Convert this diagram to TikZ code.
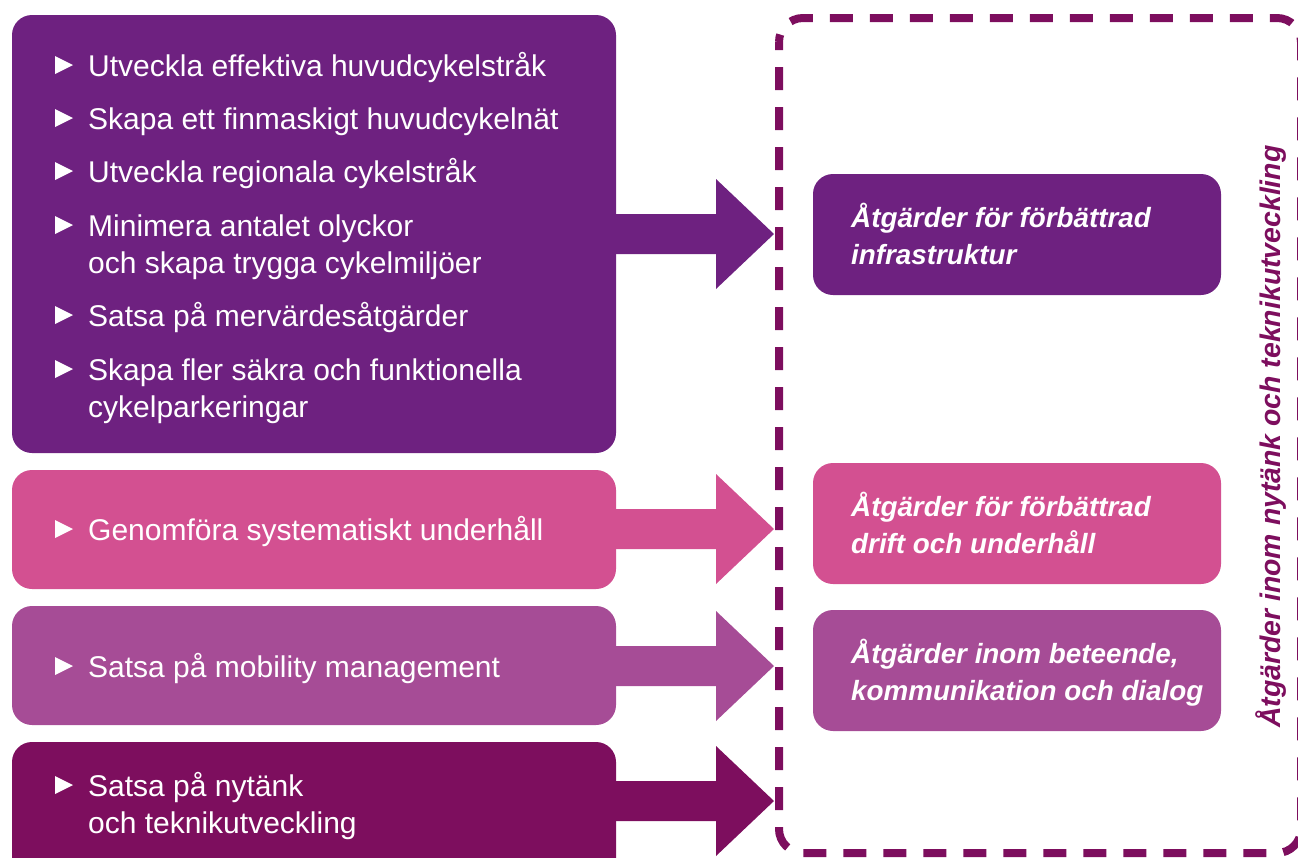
\documentclass[tikz,border=0pt]{standalone}
\usepackage{fontspec}
\setmainfont{Liberation Sans}
\begin{document}
\begin{tikzpicture}[x=1pt,y=-1pt,
  leftbox/.style={rounded corners=20pt, draw=none},
  rightbox/.style={rounded corners=20pt, draw=none},
  item/.style={anchor=base west, inner sep=0pt, text=white, font=\fontsize{30}{37}\selectfont},
  goal/.style={anchor=base west, inner sep=0pt, text=white, font=\fontsize{27.8}{37}\selectfont\bfseries\itshape},
  bullet/.style={fill=white, draw=none},
  arrowbody/.style={draw=none},
]
\definecolor{cInfra}{RGB}{110,33,128}
\definecolor{cDrift}{RGB}{211,80,145}
\definecolor{cMob}{RGB}{166,76,150}
\definecolor{cNy}{RGB}{125,14,94}

\useasboundingbox (0,0) rectangle (1298,857);

% left-hand boxes
\fill[leftbox, cInfra] (12,15) rectangle (616,453);
\fill[leftbox, cDrift] (12,470) rectangle (616,589);
\fill[leftbox, cMob]   (12,606) rectangle (616,725);
\fill[leftbox, cNy]    (12,742) rectangle (616,885);

% block arrows towards the dashed frame
\newcommand{\blockarrow}[2]{%
  \fill[arrowbody, #1] (612,#2-20) -- (716,#2-20) -- (716,#2-55) -- (774,#2)
     -- (716,#2+55) -- (716,#2+20) -- (612,#2+20) -- cycle;}
\blockarrow{cInfra}{234}
\blockarrow{cDrift}{529}
\blockarrow{cMob}{666}
\blockarrow{cNy}{801}

% dashed frame
\draw[cNy, line width=8pt, dash pattern=on 23pt off 17pt, dash phase=15pt, rounded corners=24pt]
  (779,18) rectangle (1301,853);

% right-hand boxes
\fill[rightbox, cInfra] (813,174) rectangle (1221,295);
\fill[rightbox, cDrift] (813,463) rectangle (1221,584);
\fill[rightbox, cMob]   (813,610) rectangle (1221,731);

% bullets
\newcommand{\tri}[1]{\fill[bullet] (55,#1-20) -- (73,#1-11) -- (55,#1-2) -- cycle;}
\tri{76}\tri{129}\tri{182}\tri{236}\tri{326}\tri{380}\tri{540}\tri{677}\tri{796}

% bullet texts
\node[item] (t1)  at (88,76)  {Utveckla effektiva huvudcykelstråk};
\node[item] (t2)  at (88,129) {Skapa ett finmaskigt huvudcykelnät};
\node[item] (t3)  at (88,182) {Utveckla regionala cykelstråk};
\node[item] (t4a) at (88,236) {Minimera antalet olyckor};
\node[item] (t4b) at (88,273) {och skapa trygga cykelmiljöer};
\node[item] (t5)  at (88,326) {Satsa på mervärdesåtgärder};
\node[item] (t6a) at (88,380) {Skapa fler säkra och funktionella};
\node[item] (t6b) at (88,417) {cykelparkeringar};
\node[item] (t7)  at (88,540) {Genomföra systematiskt underhåll};
\node[item] (t8)  at (88,677) {Satsa på mobility management};
\node[item] (t9a) at (88,796) {Satsa på nytänk};
\node[item] (t9b) at (88,833) {och teknikutveckling};

% goal texts
\node[goal] (g1a) at (851,227) {Åtgärder för förbättrad};
\node[goal] (g1b) at (851,264) {infrastruktur};
\node[goal] (g2a) at (851,516) {Åtgärder för förbättrad};
\node[goal] (g2b) at (851,553) {drift och underhåll};
\node[goal] (g3a) at (851,663) {Åtgärder inom beteende,};
\node[goal] (g3b) at (851,700) {kommunikation och dialog};

% vertical caption of the frame
\node[anchor=base west, inner sep=0pt, rotate=90, text=cNy,
      font=\fontsize{28.4}{34}\selectfont\bfseries\itshape] (cap) at (1280,728)
  {Åtgärder inom nytänk och teknikutveckling};
\end{tikzpicture}
\end{document}
